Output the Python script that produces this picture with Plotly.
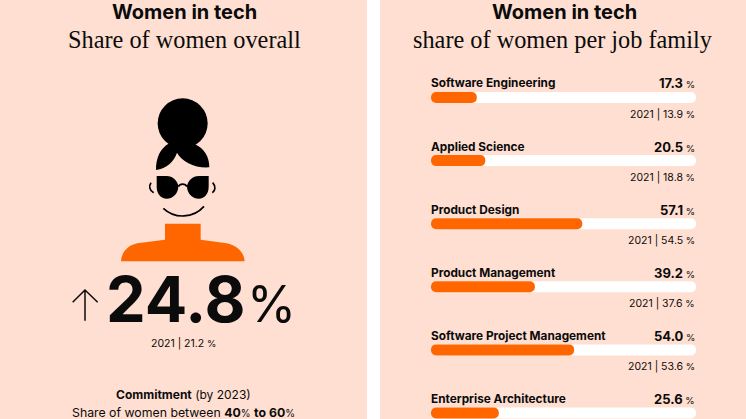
import plotly.graph_objects as go

W, H = 746, 419
BG = "#FFDFD1"
ORANGE = "#FF6600"
INK = "#0B0B0B"
SANS = "Inter"
SERIF = "Liberation Serif"

title = "Women in tech"
left_subtitle = "Share of women overall"
right_subtitle = "share of women per job family"
categories = ["Software Engineering", "Applied Science", "Product Design",
              "Product Management", "Software Project Management", "Enterprise Architecture"]
share_current = [17.3, 20.5, 57.1, 39.2, 54.0, 25.6]
share_2021 = [13.9, 18.8, 54.5, 37.6, 53.6, None]
track_full = [100, 100, 100, 100, 100, 100]
bar_base = [0, 0, 0, 0, 0, 0]
overall_current = 24.8
overall_2021 = 21.2


def px(x):
    return x / W


def py(y):
    return 1 - y / H


def path(seq, ox=0.0, oy=0.0, k=1.0):
    """Turn illustration drawing commands given in reference pixels into a paper-space path."""
    out = []
    for tok in seq:
        if isinstance(tok, str):
            out.append(tok)
        else:
            out.append(f"{px(ox + tok[0] / k):.5f},{py(oy + tok[1] / k):.5f}")
    return " ".join(out)


def text(x, y, s, size, family=SANS, anchor="center", color=INK):
    return dict(xref="paper", yref="paper", x=px(x), y=py(y), text=s, showarrow=False,
                xanchor=anchor, yanchor="middle", align="center", borderpad=0, borderwidth=0,
                font=dict(family=family, size=size, color=color))


fig = go.Figure()
# An explicit base makes Plotly round both ends of each bar.
fig.add_trace(go.Bar(y=categories, x=track_full, base=bar_base, orientation="h",
                     marker=dict(color="white", line_width=0), width=0.174,
                     hoverinfo="skip", showlegend=False))
fig.add_trace(go.Bar(y=categories, x=share_current, base=bar_base, orientation="h",
                     marker=dict(color=ORANGE, line_width=0), width=0.174,
                     hovertemplate="%{y}: %{x}%<extra></extra>", showlegend=False))

shapes = [
    dict(type="rect", xref="paper", yref="paper", x0=0, x1=px(367), y0=0, y1=1, fillcolor=BG, line_width=0, layer="below"),
    dict(type="rect", xref="paper", yref="paper", x0=px(380), x1=1, y0=0, y1=1, fillcolor=BG, line_width=0, layer="below"),
    dict(type="circle", xref="paper", yref="paper", x0=px(50 + 323 / 3), x1=px(50 + 473 / 3),
         y0=py(80 + 55 / 3), y1=py(80 + 205 / 3), fillcolor="black", line_width=0),
]
Z = dict(ox=50, oy=80, k=3)
fills = [
    (["M", (358, 190), "C", (330, 205), (318, 235), (318, 270), "C", (350, 265), (372, 245), (381, 218),
      "C", (395, 245), (435, 265), (478, 262), "C", (478, 230), (462, 205), (435, 193), "L", (398, 170), "Z"], "black"),
    (["M", (320, 288), "L", (350, 288), "C", (368, 288), (382, 302), (385, 318), "C", (385, 340), (370, 356), (350, 356),
      "C", (332, 356), (320, 340), (320, 320), "Z"], "black"),
    (["M", (476, 288), "L", (446, 288), "C", (428, 288), (414, 302), (411, 318), "C", (411, 340), (426, 356), (446, 356),
      "C", (464, 356), (476, 340), (476, 320), "Z"], "black"),
    (["M", (213, 544), "C", (215, 510), (240, 495), (262, 490), "L", (345, 479), "L", (345, 431), "L", (452, 431),
      "L", (452, 479), "L", (530, 490), "C", (560, 497), (582, 515), (584, 544), "Z"], ORANGE),
]
for seq, col in fills:
    shapes.append(dict(type="path", xref="paper", yref="paper", path=path(seq, **Z), fillcolor=col, line_width=0))
strokes = [
    ["M", (385, 320), "C", (390, 310), (406, 310), (411, 320)],
    ["M", (303, 308), "C", (296, 318), (298, 332), (311, 338)],
    ["M", (488, 308), "C", (497, 318), (497, 332), (487, 338)],
    ["M", (340, 385), "C", (375, 418), (430, 415), (462, 379)],
]
for seq in strokes:
    shapes.append(dict(type="path", xref="paper", yref="paper", path=path(seq, **Z),
                       line=dict(color="black", width=1.7)))
arrow = ["M", (135, 182), "L", (135, 90), "M", (98, 127), "L", (135, 90), "L", (173, 127)]
shapes.append(dict(type="path", xref="paper", yref="paper", path=path(arrow, ox=40, oy=260, k=3),
                   line=dict(color=INK, width=1.5)))

annotations = [
    text(184, 12, f"<b>{title}</b>", 20),
    text(184, 40, left_subtitle, 24.3, SERIF),
    text(564, 12, f"<b>{title}</b>", 20),
    text(563, 40, right_subtitle, 24.3, SERIF),
    text(106, 299, f"<b>{overall_current}</b>", 63, anchor="left"),
    text(247, 304, "%", 50, anchor="left"),
    text(183, 343, f"2021 | {overall_2021}<span style='font-size:9.5px'> %</span>", 10.5),
    text(183, 394, "<b>Commitment</b> (by 2023)", 12),
    text(183, 412, "Share of women between <b>40</b><span style='font-size:10px'>%</span> <b>to 60</b><span style='font-size:10px'>%</span>", 12.3),
]
for cat, cur, old in zip(categories, share_current, share_2021):
    annotations.append(dict(xref="x", yref="y", x=0, y=cat, yshift=14, xshift=-2, text=f"<b>{cat}</b>", showarrow=False,
                            xanchor="left", yanchor="middle", font=dict(family=SANS, size=11.8, color=INK)))
    annotations.append(dict(xref="x", yref="y", x=100, y=cat, yshift=14, xshift=1,
                            text=f"<b>{cur:.1f}</b><span style='font-size:9.5px'> %</span>", showarrow=False,
                            xanchor="right", yanchor="middle", font=dict(family=SANS, size=13, color=INK)))
    if old is not None:
        annotations.append(dict(xref="x", yref="y", x=100, y=cat, yshift=-17, xshift=1,
                                text=f"2021 | {old:.1f}<span style='font-size:9.5px'> %</span>", showarrow=False,
                                xanchor="right", yanchor="middle", font=dict(family=SANS, size=10.5, color=INK)))

fig.update_layout(
    width=W, height=H, margin=dict(l=0, r=0, t=0, b=0), paper_bgcolor="white", plot_bgcolor="rgba(0,0,0,0)",
    barmode="overlay", barcornerradius=5.5, shapes=shapes, annotations=annotations,
    xaxis=dict(domain=[431 / W, 696 / W], range=[0, 100], visible=False, fixedrange=True),
    yaxis=dict(domain=[0, 1], type="category", categoryorder="array", categoryarray=categories,
               range=[5.095, -1.545], visible=False, fixedrange=True),
)
fig.write_html("out.html", config={"displayModeBar": False},
               post_script="document.body.style.margin='0';")
